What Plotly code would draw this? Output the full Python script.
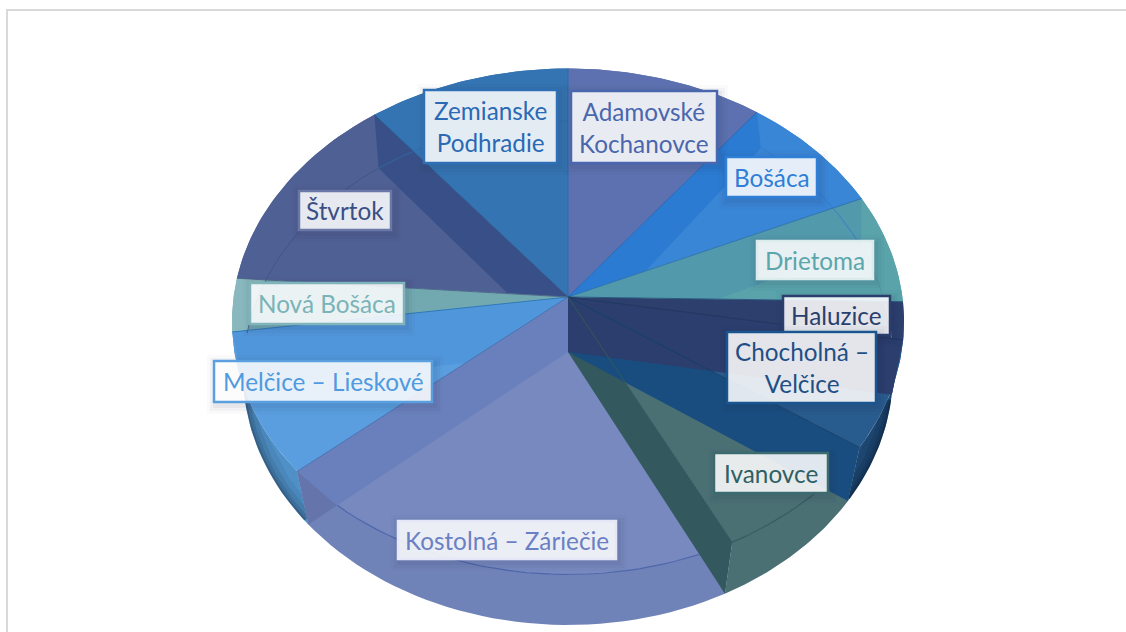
import numpy as np
import plotly.graph_objects as go

# --- data -------------------------------------------------------------
categories = ["Adamovské<br>Kochanovce", "Bošáca", "Drietoma", "Haluzice",
              "Chocholná –<br>Velčice", "Ivanovce", "Kostolná – Záriečie",
              "Melčice – Lieskové", "Nová Bošáca", "Štvrtok",
              "Zemianske<br>Podhradie"]
values = [10.4, 7.9, 7.0, 2.4, 6.9, 8.0, 21.1, 9.1, 3.4, 13.1, 10.7]

# --- styles -----------------------------------------------------------
face_colors = ["#5d71b0", "#3a86d6", "#5aa3ab", "#2c3f6d", "#285c8e", "#4a7074",
               "#7789bf", "#5a9edf", "#88b8bd", "#4f6094", "#3474b2"]
rim_colors = ["#5d71b0", "#3a86d6", "#5aa3ab", "#2c3f6d", "#1f4a78", "#4a7074",
              "#7083b8", "#4f90c6", "#88b8bd", "#4f6094", "#3474b2"]
text_colors = ["#4a66ad", "#2f7fd6", "#5ba6ab", "#2b3f6e", "#1f4f85", "#2f5f63",
               "#6a80c4", "#4f9ae0", "#7ab3b8", "#3a4f85", "#2a69b5"]
border_colors = ["#4a66ad", "#2f7fd6", "#dcecec", "#2b3f6e", "#1a5590", "#3c6b6f",
                 "#e4e8f6", "#5a9fe0", "#7fb5ba", "#6a78a8", "#2e6fb5"]
# label boxes: x0, y0, x1, y1 in pixels
label_boxes = [(571, 91, 717, 163), (726, 157, 817, 197), (757, 241, 873, 279),
               (783, 296, 890, 335), (727, 332, 876, 403), (714, 453, 828, 493),
               (398, 521, 616, 559), (214, 361, 432, 402), (250, 283, 404, 324),
               (299, 191, 391, 230), (424, 90, 557, 163)]

W, H = 1126, 632
TOP = dict(cx=568, cy=321.5, rx=336, ry=253, t=0.0968)
BOT = dict(cx=568, cy=373, rx=325, ry=252, t=0.0833)
BACK = dict(cx=568, cy=362, rx=325, ry=266, t=0.03)


def ring(theta, e):
    theta = np.asarray(theta, float)
    sx, cy_ = np.sin(theta), np.cos(theta)
    d = 1 + e["t"] * cy_
    u = sx * np.sqrt(1 - e["t"] ** 2) / d
    v = (cy_ + e["t"]) / d
    return np.column_stack([e["cx"] + e["rx"] * u, e["cy"] - e["ry"] * v])


def apex(e):
    return np.array([[e["cx"], e["cy"] - e["ry"] * e["t"]]])


def arc(a, b, e, n=40):
    return ring(np.linspace(a, b, n), e)


def clip(poly, hull):
    """Sutherland-Hodgman clip of poly by the convex polygon hull."""
    area = 0.5 * np.sum(hull[:, 0] * np.roll(hull[:, 1], -1) - np.roll(hull[:, 0], -1) * hull[:, 1])
    sign = 1 if area > 0 else -1
    out = [tuple(p) for p in poly]
    for i in range(len(hull)):
        a, b = hull[i], hull[(i + 1) % len(hull)]
        if np.allclose(a, b):
            continue
        inside = lambda p: sign * ((b[0] - a[0]) * (p[1] - a[1]) - (b[1] - a[1]) * (p[0] - a[0])) >= -1e-9
        src, out = out, []
        for j in range(len(src)):
            p, q = np.array(src[j]), np.array(src[(j + 1) % len(src)])
            ip, iq = inside(p), inside(q)
            if ip:
                out.append(tuple(p))
            if ip != iq:
                den = (b[0] - a[0]) * (q[1] - p[1]) - (b[1] - a[1]) * (q[0] - p[0])
                s = ((b[1] - a[1]) * (p[0] - a[0]) - (b[0] - a[0]) * (p[1] - a[1])) / den
                out.append(tuple(p + s * (q - p)))
        if not out:
            return np.zeros((0, 2))
    return np.array(out)


fig = go.Figure()


def poly(pts, fill, line=None, lw=0):
    if len(pts) == 0:
        return
    pts = np.vstack([pts, pts[:1]])
    fig.add_trace(go.Scatter(x=pts[:, 0], y=pts[:, 1], mode="lines", fill="toself",
                             fillcolor=fill, line=dict(color=line or fill, width=lw),
                             hoverinfo="skip", showlegend=False))


def stroke(pts, color, lw=1):
    fig.add_trace(go.Scatter(x=pts[:, 0], y=pts[:, 1], mode="lines",
                             line=dict(color=color, width=lw),
                             hoverinfo="skip", showlegend=False))


frac = np.array(values) / np.sum(values)
edges = np.concatenate([[0], np.cumsum(frac)]) * 2 * np.pi
C, Cb = apex(TOP), apex(BOT)
idx = {c.replace("<br>", " "): i for i, c in enumerate(categories)}
I_HAL, I_CHO, I_IVA, I_KOS, I_MEL = (idx["Haluzice"], idx["Chocholná – Velčice"], idx["Ivanovce"],
                                     idx["Kostolná – Záriečie"], idx["Melčice – Lieskové"])


def wedge(i):
    return np.vstack([C, arc(edges[i], edges[i + 1], TOP)])


def wall(th, e=BOT):
    return np.vstack([C, ring([th], TOP), ring([th], e), apex(e)])


# outer walls
for i in range(len(values)):
    poly(np.vstack([arc(edges[i], edges[i + 1], TOP),
                    arc(edges[i + 1], edges[i], BOT)]), rim_colors[i])
# darker silhouette of the side wall: soft strokes kept inside the outline
for lw, alpha in [(14, 0.10), (9, 0.14), (5, 0.18), (2, 0.30)]:
    inner = dict(BOT, rx=BOT["rx"] - lw / 2, ry=BOT["ry"] - lw / 2)
    stroke(arc(edges[I_HAL + 1] + 0.02, edges[I_CHO + 1] - 0.01, inner), f"rgba(10,25,50,{alpha})", lw)
    stroke(arc(edges[I_MEL] + 0.02, edges[I_MEL + 1] - 0.01, inner), f"rgba(35,55,85,{alpha})", lw)

# top faces
for i in range(len(values)):
    poly(wedge(i), face_colors[i])

# walls seen through the transparent back slices
through = [("Bošáca", 0, "#2b7bd2", BACK), ("Drietoma", 0, "#5299ab", BACK),
           ("Štvrtok", 1, "#385087", BOT), ("Melčice – Lieskové", 1, "#5096da", BOT)]
for name, side, col, e in through:
    i = idx[name]
    poly(clip(wall(edges[i + side], e), wedge(i)), col)
# inner part of the narrow slice
i = idx["Nová Bošáca"]
poly(clip(arc(0, 2 * np.pi, BOT, 120)[:-1], wedge(i)), "#72a9b1")

# see-through bottom rim
for name, col, e in [("Bošáca", "#2f78c8", BACK), ("Drietoma", "#4f969c", BACK), ("Štvrtok", "#3f5185", BOT),
                     ("Zemianske Podhradie", "#2f6cab", BOT)]:
    i = idx[name]
    stroke(arc(edges[i], edges[i + 1], e), col, 0.8)

# top rim in front
stroke(arc(edges[I_IVA], edges[I_IVA + 1], TOP), "#34595e", 1.2)
stroke(arc(edges[I_KOS], edges[I_KOS + 1], TOP), "#4d66aa", 1.2)

# walls facing the viewer, back to front
kos_wall = wall(edges[I_KOS + 1])
poly(kos_wall, "#6a80bc")
# the part of that wall below the top rim
Rb = kos_wall[2]
s = np.linspace(0, 1, 400)[:, None]
probe = Cb + s * (Rb - Cb)
outside = ((probe[:, 0] - TOP["cx"]) / TOP["rx"]) ** 2 + ((probe[:, 1] - TOP["cy"]) / TOP["ry"]) ** 2 > 1
poly(np.vstack([kos_wall[1], Rb, probe[np.argmax(outside)]]), "#6575ab")
poly(wall(edges[I_IVA + 1]), "#33595e")
poly(wall(edges[I_CHO + 1]), "#194d80")
poly(wall(edges[I_HAL + 1]), "#2b3e6d")

# slice edges
edge_cols = ["#2f6aa8", "#2f66b0", "#2f74b0", "#2c5a80", "#1f3560", "#173f68", "#33595e",
             "#4a72b0", "#2f78b8", "#4f6a8a", "#2f5a90"]
for k, col in enumerate(edge_cols):
    stroke(np.vstack([C, ring([edges[k]], TOP)]), col, 1)

# --- labels ------------------------------------------------------------
shapes = [dict(type="rect", x0=7, y0=10, x1=W + 20, y1=H + 20, xref="x", yref="y",
               line=dict(color="#d9d9d9", width=2), fillcolor="rgba(0,0,0,0)", layer="below")]
annotations = []
for name, box, bc, tc in zip(categories, label_boxes, border_colors, text_colors):
    x0, y0, x1, y1 = box
    for grow, alpha in [(9, 0.025), (6, 0.035), (3, 0.05)]:
        shapes.append(dict(type="rect", x0=x0 - grow + 2, y0=y0 - grow + 3, x1=x1 + grow + 2, y1=y1 + grow + 3,
                           xref="x", yref="y", line=dict(width=0),
                           fillcolor=f"rgba(30,40,70,{alpha})", layer="above"))
    shapes.append(dict(type="rect", x0=x0, y0=y0, x1=x1, y1=y1, xref="x", yref="y",
                       line=dict(color=bc, width=2.5), fillcolor="rgba(255,255,255,0.87)", layer="above"))
    annotations.append(dict(x=(x0 + x1) / 2, y=(y0 + y1) / 2, xref="x", yref="y", text=name,
                            showarrow=False, align="center", xanchor="center", yanchor="middle",
                            font=dict(family="Lato, 'Open Sans', sans-serif", size=24.3, color=tc)))

fig.update_layout(width=W, height=H, margin=dict(l=0, r=0, t=0, b=0),
                  paper_bgcolor="white", plot_bgcolor="white", showlegend=False,
                  xaxis=dict(range=[0, W], visible=False, fixedrange=True),
                  yaxis=dict(range=[H, 0], visible=False, fixedrange=True),
                  shapes=shapes, annotations=annotations)
fig.write_html("out.html", config={"displayModeBar": False},
               post_script="document.body.style.margin='0';")
